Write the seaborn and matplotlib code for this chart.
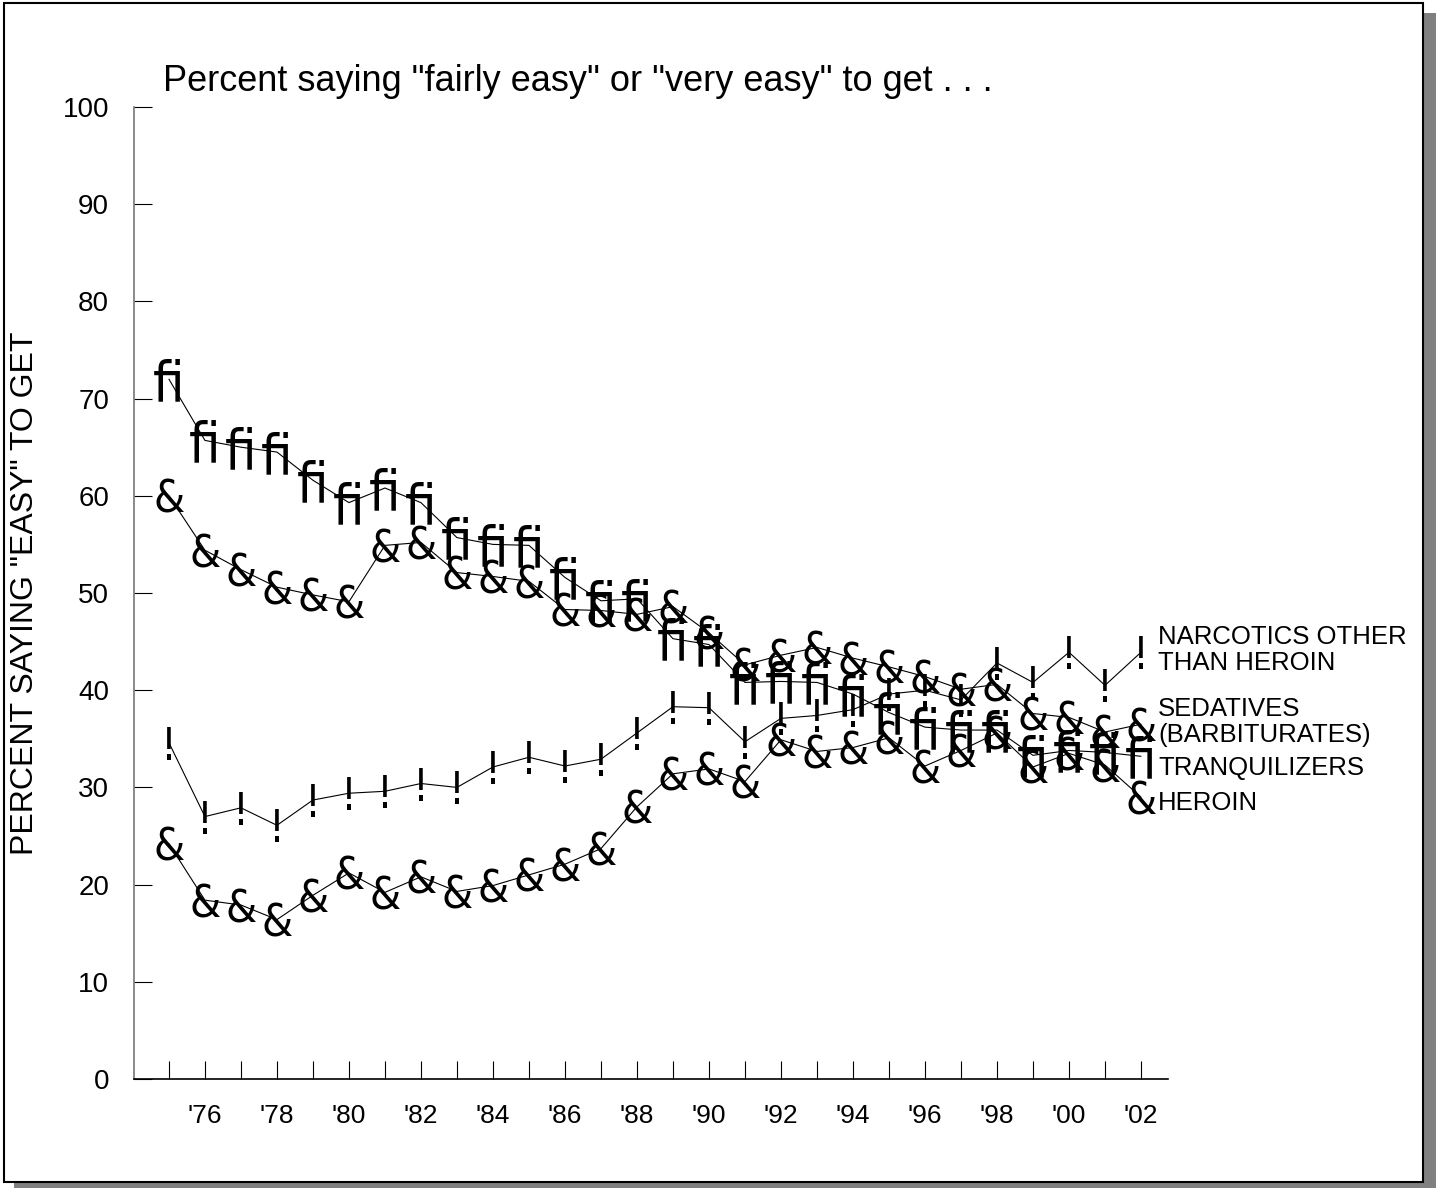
import numpy as np
import pandas as pd
import matplotlib
matplotlib.use("Agg")
import matplotlib.pyplot as plt
from matplotlib.patches import Rectangle
import seaborn as sns

# --- Data ---
years = list(range(1975, 2003))

tranquilizers = [72.0, 65.7, 65.0, 64.5, 61.6, 59.3, 60.8, 59.3, 55.7, 55.0,
                 54.9, 51.6, 49.2, 49.4, 45.3, 44.7, 40.8, 40.9, 40.8, 39.6,
                 37.7, 36.2, 35.9, 35.9, 33.3, 33.8, 33.6, 33.2]
sedatives = [60.0, 54.4, 52.4, 50.6, 49.8, 49.1, 54.9, 55.2, 52.1, 51.7,
             51.2, 48.3, 48.2, 47.8, 48.6, 45.9, 42.6, 43.6, 44.4, 43.3,
             42.4, 41.4, 40.1, 40.6, 37.6, 37.2, 35.7, 36.5]
narcotics = [34.6, 27.0, 27.9, 26.1, 28.7, 29.4, 29.6, 30.4, 30.0, 32.1,
             33.1, 32.2, 32.9, 35.6, 38.3, 38.2, 34.7, 37.1, 37.4, 38.0,
             39.6, 40.0, 39.0, 42.8, 40.8, 43.9, 40.5, 43.9]
heroin = [24.2, 18.4, 17.9, 16.4, 18.9, 21.2, 19.2, 20.8, 19.3, 19.9,
          21.0, 22.1, 23.7, 28.0, 31.4, 31.9, 30.6, 34.9, 33.7, 34.1,
          35.1, 32.2, 33.8, 35.6, 32.1, 33.5, 32.3, 29.0]

series_names = ["TRANQUILIZERS", "SEDATIVES", "NARCOTICS", "HEROIN"]
series_glyphs = ["\ufb01", "&", "!", "&"]
end_labels = ["NARCOTICS OTHER\nTHAN HEROIN", "SEDATIVES\n(BARBITURATES)",
              "TRANQUILIZERS", "HEROIN"]
end_label_y = [44.1, 36.7, 32.0, 28.4]

tick_labels = ["'76", "'78", "'80", "'82", "'84", "'86", "'88", "'90",
               "'92", "'94", "'96", "'98", "'00", "'02"]

df = pd.DataFrame({"year": years, "TRANQUILIZERS": tranquilizers,
                   "SEDATIVES": sedatives, "NARCOTICS": narcotics,
                   "HEROIN": heroin})
long_df = df.melt(id_vars="year", var_name="drug", value_name="pct")

# --- Style ---
sns.set_style("white")
plt.rcParams["font.family"] = ["Liberation Sans", "DejaVu Sans"]
plt.rcParams["text.color"] = "black"
plt.rcParams["xtick.color"] = "black"
plt.rcParams["ytick.color"] = "black"

fig = plt.figure(figsize=(14.39, 11.88), dpi=100)

# frame with drop shadow
W, H = 1439, 1188
fig.patches.append(Rectangle((14 / W, 0), (1436 - 14) / W, (H - 13) / H,
                             transform=fig.transFigure, facecolor="#808080",
                             edgecolor="none", zorder=-3))
fig.patches.append(Rectangle((4 / W, (H - 1182) / H), (1423 - 4) / W,
                             (1182 - 3) / H, transform=fig.transFigure,
                             facecolor="white", edgecolor="black",
                             linewidth=1.5, zorder=-2))

ax = fig.add_axes([134 / W, (H - 1079) / H, (1168 - 134) / W, (1079 - 107) / H])
ax.set_zorder(1)
ax.patch.set_alpha(0)

sns.lineplot(data=long_df, x="year", y="pct", units="drug", estimator=None,
             color="black", linewidth=0.8, ax=ax, legend=False)

# glyph markers
for name, glyph in zip(series_names, series_glyphs):
    size = 40 if glyph == "\ufb01" else 32
    for x, y in zip(df["year"], df[name]):
        ax.text(x, y, glyph, ha="center", va="center_baseline", fontsize=size,
                family="DejaVu Sans", fontstretch="condensed",
                color="black", zorder=3)

# labels at right end
for lab, y in zip(end_labels, end_label_y):
    ax.text(2002.47, y, lab, ha="left", va="center", fontsize=18.5,
            linespacing=1.12, clip_on=False)

ax.set_xlim(1974.03, 2002.75)
ax.set_ylim(0, 100)
ax.set_yticks(np.arange(0, 101, 10))
ax.set_xticks(years)
label_years = [1976 + 2 * i for i in range(len(tick_labels))]
ax.set_xticklabels([tick_labels[label_years.index(y)] if y in label_years else ""
                    for y in years])
ax.tick_params(axis="both", direction="in", length=13, width=0.8,
               color="black", labelcolor="black", labelsize=19, pad=18,
               bottom=True, left=True)
ax.tick_params(axis="y", labelsize=20)

for s in ["top", "right"]:
    ax.spines[s].set_visible(False)
ax.spines["left"].set_color("#777777")
ax.spines["left"].set_linewidth(1.2)
ax.spines["bottom"].set_color("black")
ax.spines["bottom"].set_linewidth(1.2)

ax.set_xlabel("")
ax.set_ylabel("")
ax.text(-0.105, 0.5, 'PERCENT SAYING "EASY" TO GET', transform=ax.transAxes,
        rotation=90, ha="center", va="center", fontsize=23)
ax.text(0.028, 1.026, 'Percent saying "fairly easy" or "very easy" to get . . .',
        transform=ax.transAxes, ha="left", va="center", fontsize=26)

fig.savefig("out.png", dpi=100)
